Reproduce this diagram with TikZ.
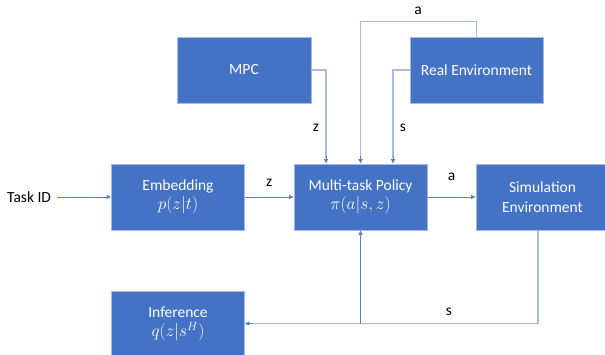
\documentclass[tikz,border=0pt]{standalone}
\usepackage{fontspec}
\setmainfont{Carlito}
\usetikzlibrary{arrows.meta}
\definecolor{boxblue}{HTML}{4472C4}
\definecolor{boxedge}{HTML}{A9B9DB}
\definecolor{wire}{HTML}{5B80C8}
\definecolor{lightwire}{HTML}{A9BCE0}
\newcommand{\bigmath}[1]{{\fontsize{17}{19.5}\selectfont$#1$}}
\tikzset{
  blockbox/.style={rectangle, fill=boxblue, draw=boxedge, line width=0.9pt,
    minimum width=133pt, minimum height=66pt, inner sep=0pt, text=white,
    align=center, font=\fontsize{15.5}{19.5}\selectfont},
  wirearrow/.style={draw=wire, line width=0.8pt, -{Triangle[length=4.5pt,width=4pt]}},
  loopwire/.style={draw=lightwire, line width=1.3pt},
  lbl/.style={font=\fontsize{15.5}{18}\selectfont, text=black, inner sep=0pt}
}
\begin{document}
\begin{tikzpicture}[x=1pt,y=-1pt]
\useasboundingbox (0,0) rectangle (605,355);
\begin{scope}
\clip (0,0) rectangle (605,355);
\node[blockbox, minimum width=134pt] (mpc) at (244,70) {MPC};
\node[blockbox] (real) at (476.5,70) {Real Environment};
\node[blockbox] (emb) at (178,197) {Embedding\\\bigmath{p(z|t)}};
\node[blockbox] (pol) at (360.5,197) {Multi-task Policy\\\bigmath{\pi(a|s,z)}};
\node[blockbox] (sim) at (542.5,197) {Simulation\\Environment};
\node[blockbox] (inf) at (178,324) {Inference\\\bigmath{q(z|s^H)}};
\end{scope}
\node[lbl, anchor=west] (task) at (7,197) {Task ID};
\coordinate (taskend) at (57,197);
\draw[wirearrow] (taskend) -- (emb.west);
\draw[wirearrow] (emb.east) -- node[lbl, above=10pt] (lz) {z} (pol.west);
\draw[wirearrow] (pol.east) -- node[lbl, above=16pt] (la) {a} (sim.west);
% MPC -> policy
\coordinate (mpcin) at ([xshift=-34.5pt]pol.north);
\draw[loopwire] (mpc.east) -| ([yshift=6pt]mpcin);
\draw[wirearrow] ([yshift=8pt]mpcin) -- (mpcin);
\node[lbl] (lz2) at (316,128) {z};
% Real -> policy (s)
\coordinate (realin) at ([xshift=32.5pt]pol.north);
\draw[loopwire] (real.west) -| ([yshift=6pt]realin);
\draw[wirearrow] ([yshift=8pt]realin) -- (realin);
\node[lbl] (ls) at (403,128) {s};
% a loop
\coordinate (atop) at ([yshift=15pt]real.north);
\draw[loopwire] (real.north) -- (atop) -| ([yshift=6pt]pol.north);
\draw[wirearrow] ([yshift=8pt]pol.north) -- (pol.north);
\node[lbl] (la2) at (418,11) {a};
% bottom loop
\coordinate (simout) at ([xshift=-4.5pt]sim.south);
\coordinate (junction) at (pol.south |- 0,323.5);
\draw[loopwire] (simout) |- ([xshift=6pt]inf.east |- junction);
\draw[wirearrow] ([xshift=8pt]inf.east |- junction) -- (inf.east |- junction);
\draw[wirearrow] (junction) -- (pol.south);
\node[lbl] (ls2) at (449,312) {s};
\end{tikzpicture}
\end{document}
